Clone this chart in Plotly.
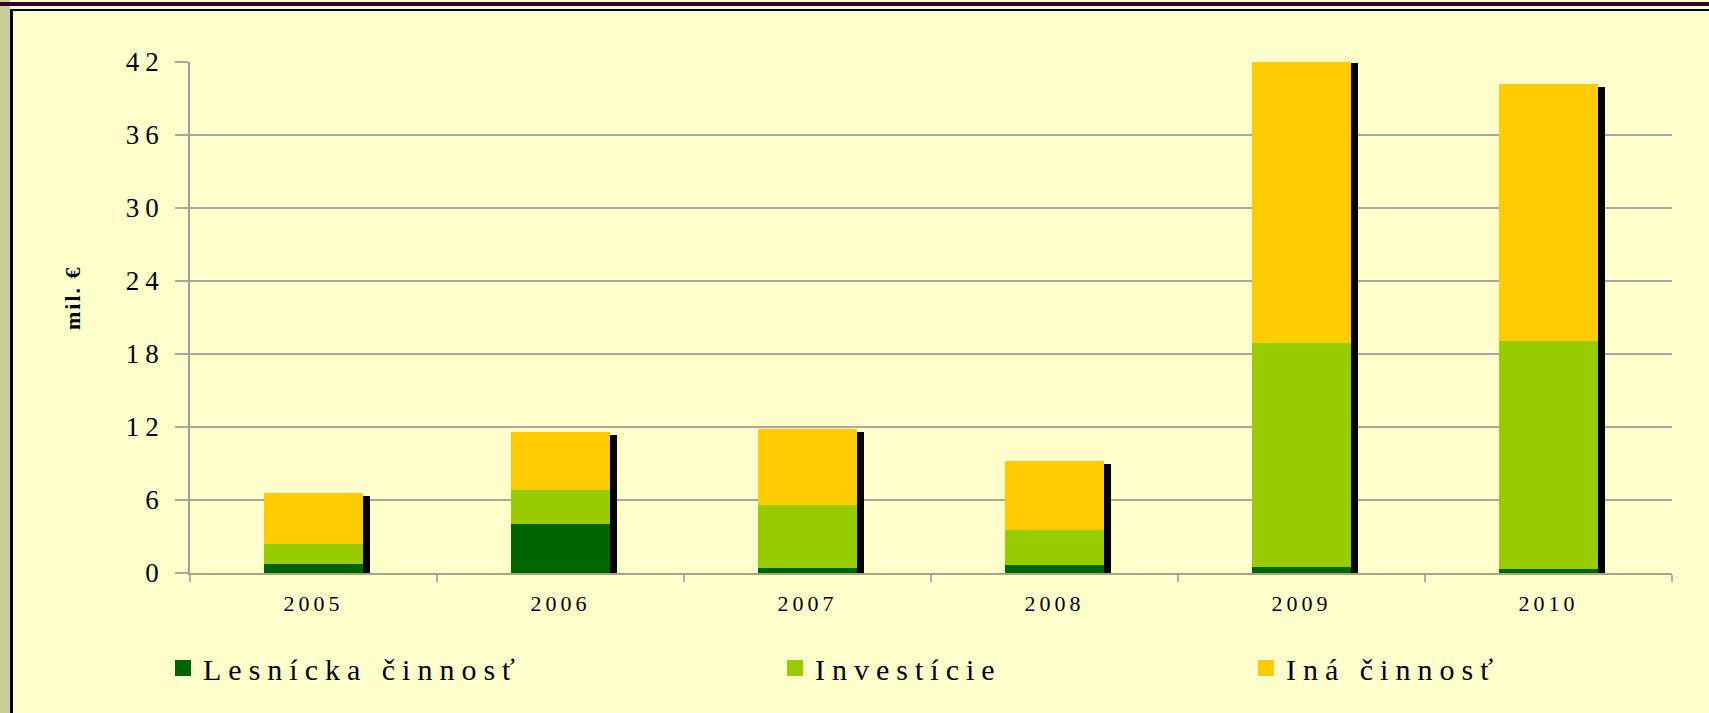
import plotly.graph_objects as go

years = ["2005", "2006", "2007", "2008", "2009", "2010"]
lesnicka = [0.76, 4.03, 0.41, 0.66, 0.49, 0.30]
investicie = [1.65, 2.79, 5.18, 2.87, 18.40, 18.75]
ina = [4.16, 4.77, 6.24, 5.67, 23.30, 21.15]
series_names = ["Lesnícka činnosť", "Investície", "Iná činnosť"]
series_colors = ["#006400", "#99CC00", "#FFCC00"]
y_ticks = [0, 6, 12, 18, 24, 30, 36, 42]

W, H = 1709, 713
L, R, T, B = 190, 37, 62, 140
BG = "#FFFFCC"
SERIF = "Liberation Serif, Times New Roman, serif"

totals = [a + b + c for a, b, c in zip(lesnicka, investicie, ina)]
base_inv = lesnicka
base_ina = [a + b for a, b in zip(lesnicka, investicie)]

bar_w = 0.4
shadow_dx = 7 / ((W - L - R) / len(years))
shadow_dy = 3 / ((H - T - B) / 42)

fig = go.Figure()
# drop shadow behind each stacked column
fig.add_trace(go.Bar(
    x=years, y=[t - shadow_dy for t in totals], base=0,
    width=bar_w, offset=-bar_w / 2 + shadow_dx,
    marker=dict(color="#000000", line=dict(width=0)),
    showlegend=False, hoverinfo="skip", cliponaxis=False))

for vals, bases, name, col in [
    (lesnicka, [0] * len(years), series_names[0], series_colors[0]),
    (investicie, base_inv, series_names[1], series_colors[1]),
    (ina, base_ina, series_names[2], series_colors[2]),
]:
    fig.add_trace(go.Bar(
        x=years, y=vals, base=bases, name=name,
        width=bar_w, offset=-bar_w / 2,
        marker=dict(color=col, line=dict(width=0)),
        showlegend=False, cliponaxis=False))

# legend entries (three separately placed legends)
legend_ids = ["legend", "legend2", "legend3"]
for name, col, lg in zip(series_names, series_colors, legend_ids):
    fig.add_trace(go.Scatter(
        x=[None], y=[None], mode="markers", name=name,
        marker=dict(symbol="square", size=16, color=col),
        legend=lg, showlegend=True))

pw = W - L - R
ph = H - T - B
def px2paper(px):
    return (px - L) / pw
def py2paper(py):
    return (H - B - py) / ph

legend_common = dict(
    orientation="h", yanchor="middle", xanchor="left",
    y=py2paper(668),
    bgcolor="rgba(0,0,0,0)", borderwidth=0,
    font=dict(family=SERIF, size=30, color="#000000"),
    itemsizing="trace",
)

fig.update_layout(
    width=W, height=H,
    margin=dict(l=L, r=R, t=T, b=B, pad=0),
    paper_bgcolor=BG, plot_bgcolor=BG,
    barmode="overlay", bargap=0,
    showlegend=True,
    legend=dict(legend_common, x=px2paper(163)),
    legend2=dict(legend_common, x=px2paper(775)),
    legend3=dict(legend_common, x=px2paper(1246)),
    xaxis=dict(
        type="category", categoryorder="array", categoryarray=years,
        range=[-0.5, len(years) - 0.5],
        showgrid=False, zeroline=False,
        showline=True, linecolor="rgba(90,90,80,0.55)", linewidth=2,
        ticks="outside", tickson="boundaries", ticklen=7, tickwidth=2,
        tickcolor="#B0B0A8",
        tickfont=dict(family=SERIF, size=22, color="#000000"),
        ticklabelstandoff=10,
    ),
    yaxis=dict(
        range=[0, 42], tickmode="array", tickvals=y_ticks,
        ticktext=[str(v) for v in y_ticks],
        showgrid=True, gridcolor="#A8A89C", gridwidth=1.5,
        zeroline=False,
        showline=True, linecolor="#A0A0A0", linewidth=1.5,
        ticks="outside", ticklen=13, tickwidth=1.5, tickcolor="#A8A89C",
        tickfont=dict(family=SERIF, size=27, color="#000000"),
        ticklabelstandoff=5,
    ),
    annotations=[dict(
        text="<b>mil. €</b>", textangle=-90,
        xref="paper", yref="paper",
        x=px2paper(72), y=py2paper(298),
        xanchor="center", yanchor="middle", showarrow=False,
        font=dict(family=SERIF, size=22, color="#000000"),
    )],
    shapes=[
        # left beige strip
        dict(type="rect", xref="paper", yref="paper", layer="above",
             x0=px2paper(0), x1=px2paper(10),
             y0=py2paper(H), y1=py2paper(0),
             fillcolor="#CCCC99", line=dict(width=0)),
        # top purple band
        dict(type="rect", xref="paper", yref="paper", layer="above",
             x0=px2paper(0), x1=px2paper(W),
             y0=py2paper(6), y1=py2paper(2),
             fillcolor="#330033", line=dict(width=0)),
        # black frame lines
        dict(type="rect", xref="paper", yref="paper", layer="above",
             x0=px2paper(10), x1=px2paper(W),
             y0=py2paper(11), y1=py2paper(9),
             fillcolor="#000000", line=dict(width=0)),
        dict(type="rect", xref="paper", yref="paper", layer="above",
             x0=px2paper(10), x1=px2paper(13),
             y0=py2paper(H), y1=py2paper(9),
             fillcolor="#000000", line=dict(width=0)),
    ],
)

post = """
var st = document.createElement('style');
st.textContent = 'body{margin:0;overflow:hidden} ' +
  '.xtick text{letter-spacing:4px} ' +
  '.ytick text{letter-spacing:6px} ' +
  '.annotation-text{letter-spacing:2px}';
document.head.appendChild(st);
var gd = document.getElementsByClassName('plotly-graph-div')[0];
function spaceLegends() {
  var groups = gd.querySelectorAll('.infolayer > g');
  groups.forEach(function (g) {
    var cls = g.getAttribute('class') || '';
    if (cls.indexOf('legend') !== 0) return;
    g.querySelectorAll('[clip-path]').forEach(function (e) { e.removeAttribute('clip-path'); });
    g.removeAttribute('clip-path');
    g.querySelectorAll('text').forEach(function (t) { t.style.letterSpacing = '7px'; });
  });
}
spaceLegends();
setTimeout(spaceLegends, 50);
setTimeout(spaceLegends, 300);
"""

fig.write_html("out.html", post_script=post, config={"displayModeBar": False})
